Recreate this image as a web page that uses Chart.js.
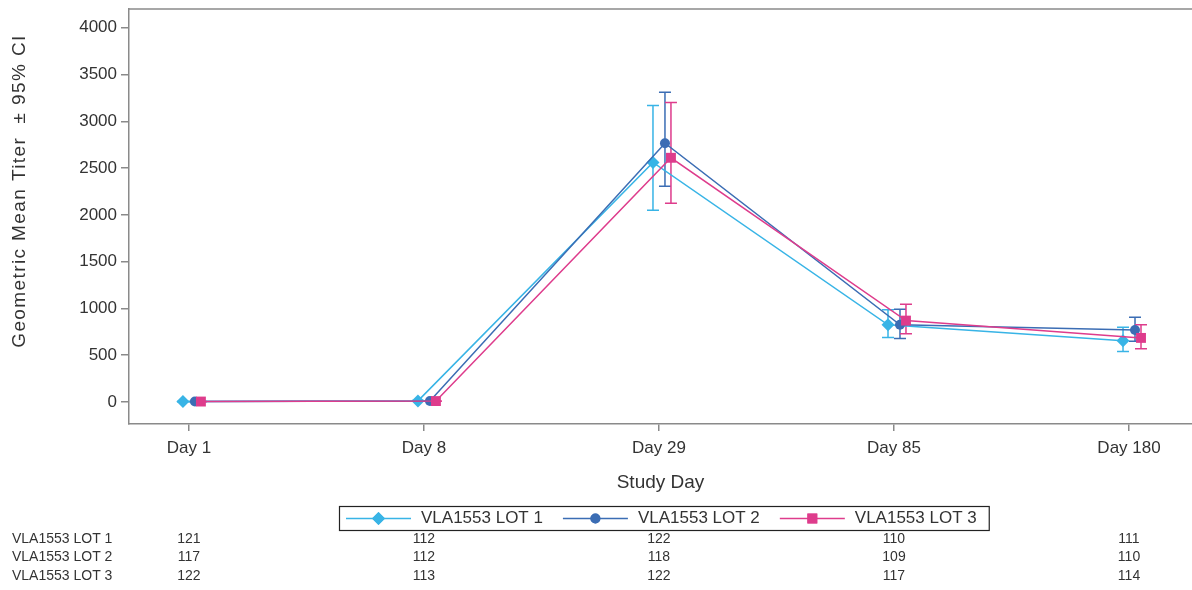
<!DOCTYPE html>
<html><head><meta charset="utf-8">
<script src="https://cdn.jsdelivr.net/npm/chart.js@4.4.0/dist/chart.umd.min.js"></script>
<style>html,body{margin:0;padding:0;background:#fff}#wrap{width:1192px;height:590px;position:relative}</style>
</head><body><div id="wrap"><canvas id="c" width="1192" height="590"></canvas></div>
<script>
// ---- data ----
const categories = ['Day 1', 'Day 8', 'Day 29', 'Day 85', 'Day 180'];
const yTicks = [0, 500, 1000, 1500, 2000, 2500, 3000, 3500, 4000];
const seriesNames = ['VLA1553 LOT 1', 'VLA1553 LOT 2', 'VLA1553 LOT 3'];
const lot1 = [5, 12, 2560, 825, 655];
const lot1Lo = [4, 10, 2050, 690, 540];
const lot1Hi = [6, 15, 3170, 985, 800];
const lot2 = [5, 10, 2765, 825, 770];
const lot2Lo = [4, 8, 2305, 680, 650];
const lot2Hi = [6, 12, 3310, 990, 905];
const lot3 = [5, 10, 2610, 870, 685];
const lot3Lo = [4, 8, 2125, 730, 570];
const lot3Hi = [6, 12, 3200, 1045, 825];
const n1 = [121, 112, 122, 110, 111];
const n2 = [117, 112, 118, 109, 110];
const n3 = [122, 113, 122, 117, 114];
const yTitle = 'Geometric Mean Titer  \u00B1 95% CI';
const xTitle = 'Study Day';

// ---- styles ----
const FONT = "'Liberation Sans', Arial, Helvetica, sans-serif";
const colors = ['#38b4e6', '#3b6db4', '#de3c8c'];
const styles = ['rectRot', 'circle', 'rect'];
const radii = [6.5, 5, 7];
const offsets = [-0.0255, 0.0255, 0.051];
const axisColor = '#8a8a8a';
const textColor = '#333333';

const vals = [lot1, lot2, lot3], los = [lot1Lo, lot2Lo, lot3Lo], his = [lot1Hi, lot2Hi, lot3Hi];
const counts = [n1, n2, n3];

const datasets = seriesNames.map((name, k) => ({
  label: name,
  data: vals[k].map((v, i) => ({x: i + offsets[k], y: v})),
  borderColor: colors[k],
  backgroundColor: colors[k],
  borderWidth: 1.5,
  pointStyle: styles[k],
  pointRadius: radii[k],
  pointBorderWidth: 0,
  pointBackgroundColor: colors[k],
  tension: 0,
  order: 3 - k
}));

const decor = {
  id: 'decor',
  beforeDatasetsDraw(chart) {
    const {ctx, scales: {x, y}} = chart;
    ctx.save();
    ctx.lineWidth = 1.5;
    for (let k = 0; k < 3; k++) {
      ctx.strokeStyle = colors[k];
      for (let i = 0; i < categories.length; i++) {
        const px = x.getPixelForValue(i + offsets[k]);
        const y1 = y.getPixelForValue(los[k][i]);
        const y2 = y.getPixelForValue(his[k][i]);
        ctx.beginPath();
        ctx.moveTo(px, y1); ctx.lineTo(px, y2);
        ctx.moveTo(px - 6, y1); ctx.lineTo(px + 6, y1);
        ctx.moveTo(px - 6, y2); ctx.lineTo(px + 6, y2);
        ctx.stroke();
      }
    }
    ctx.restore();
  },
  afterDraw(chart) {
    const {ctx, chartArea: ca, scales: {x}} = chart;
    ctx.save();
    // top frame line
    ctx.strokeStyle = axisColor; ctx.lineWidth = 1.5;
    ctx.beginPath(); ctx.moveTo(ca.left, ca.top); ctx.lineTo(ca.right, ca.top); ctx.stroke();

    // y-axis title
    ctx.save();
    ctx.translate(20, 191);
    ctx.rotate(-Math.PI / 2);
    ctx.font = '19px ' + FONT;
    if ('letterSpacing' in ctx) ctx.letterSpacing = '1.4px';
    ctx.fillStyle = textColor;
    ctx.textAlign = 'center';
    ctx.textBaseline = 'middle';
    ctx.fillText(yTitle, 0, 0);
    ctx.restore();

    // legend
    ctx.font = '17px ' + FONT;
    ctx.textBaseline = 'middle';
    const lineW = 65, gapText = 10, gapItem = 20, padL = 7, padR = 12;
    const tw = seriesNames.map(s => ctx.measureText(s).width);
    let total = padL + padR + gapItem * 2;
    tw.forEach(w => total += lineW + gapText + w);
    const boxL = Math.round(664 - total / 2), boxT = 506, boxH = 24;
    ctx.strokeStyle = '#222'; ctx.lineWidth = 1.2;
    ctx.strokeRect(boxL + 0.5, boxT + 0.5, total, boxH);
    let cx = boxL + padL;
    const cy = boxT + boxH / 2 + 0.5;
    for (let k = 0; k < 3; k++) {
      ctx.strokeStyle = colors[k]; ctx.lineWidth = 1.5;
      ctx.beginPath(); ctx.moveTo(cx, cy); ctx.lineTo(cx + lineW, cy); ctx.stroke();
      ctx.fillStyle = colors[k];
      Chart.helpers.drawPoint(ctx, {pointStyle: styles[k], radius: radii[k], borderWidth: 0, rotation: 0}, cx + lineW / 2, cy);
      ctx.fill();
      ctx.fillStyle = textColor; ctx.textAlign = 'left';
      ctx.fillText(seriesNames[k], cx + lineW + gapText, cy);
      cx += lineW + gapText + tw[k] + gapItem;
    }

    // at-risk table
    ctx.font = '14px ' + FONT;
    ctx.fillStyle = textColor;
    const rowY = [539, 557.5, 576];
    for (let k = 0; k < 3; k++) {
      ctx.textAlign = 'left';
      ctx.fillText(seriesNames[k], 12, rowY[k]);
      ctx.textAlign = 'center';
      counts[k].forEach((n, i) => ctx.fillText(String(n), x.getPixelForValue(i), rowY[k]));
    }
    ctx.restore();
  }
};

new Chart(document.getElementById('c'), {
  type: 'line',
  data: {datasets},
  options: {
    responsive: false,
    animation: false,
    devicePixelRatio: 1,
    layout: {autoPadding: false, padding: {top: 9, left: 0, right: 0, bottom: 96}},
    plugins: {legend: {display: false}, tooltip: {enabled: false}},
    scales: {
      x: {
        type: 'linear', min: -0.255, max: 4.268,
        afterBuildTicks: s => { s.ticks = categories.map((c, i) => ({value: i})); },
        afterFit: s => { s.height = 70; s.paddingLeft = 0; s.paddingRight = 0; },
        ticks: {callback: v => categories[v], autoSkip: false, maxRotation: 0, padding: 7,
                color: textColor, font: {family: FONT, size: 17}},
        grid: {display: true, drawOnChartArea: false, drawTicks: true, tickLength: 7, color: axisColor, lineWidth: 1.5},
        border: {display: true, color: axisColor, width: 1.5},
        title: {display: true, text: xTitle, color: textColor, font: {family: FONT, size: 19}, padding: 0}
      },
      y: {
        type: 'linear', min: -235, max: 4200,
        afterBuildTicks: s => { s.ticks = yTicks.map(v => ({value: v})); },
        afterFit: s => { s.width = 129; s.paddingTop = 0; s.paddingBottom = 0; },
        ticks: {padding: 4, color: textColor, font: {family: FONT, size: 17}, callback: v => String(v)},
        grid: {display: true, drawOnChartArea: false, drawTicks: true, tickLength: 8, color: axisColor, lineWidth: 1.5},
        border: {display: true, color: axisColor, width: 1.5}
      }
    }
  },
  plugins: [decor]
});
</script>
</body></html>
